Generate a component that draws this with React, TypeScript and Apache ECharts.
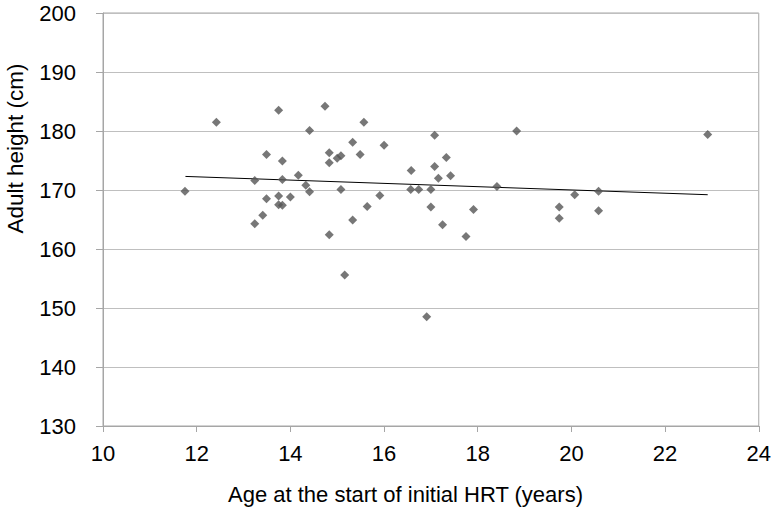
import React, { useEffect, useRef } from "react";
import * as echarts from "echarts";

const ageAtStart: number[] = [
  11.75, 12.42, 13.75, 14.74, 15.57, 14.41, 15.33, 13.49, 13.83, 14.83,
  15.0, 15.08, 15.49, 14.83, 14.17, 13.24, 13.83, 14.33, 14.41, 15.08,
  13.49, 13.75, 14.0, 13.75, 13.83, 15.64, 13.41, 13.24, 15.33, 14.83,
  15.16, 16.0, 17.08, 18.83, 16.58, 17.08, 17.33, 17.16, 17.42, 16.57,
  16.74, 17.0, 18.41, 15.91, 17.0, 17.91, 17.25, 17.75, 16.91, 22.91,
  19.74, 19.74, 20.07, 20.58, 20.58,
];

const adultHeight: number[] = [
  169.8, 181.5, 183.5, 184.2, 181.5, 180.1, 178.1, 176.0, 174.9, 176.3,
  175.4, 175.8, 176.0, 174.6, 172.5, 171.6, 171.8, 170.8, 169.7, 170.1,
  168.5, 169.0, 168.8, 167.5, 167.4, 167.2, 165.7, 164.3, 164.9, 162.4,
  155.6, 177.6, 179.3, 180.0, 173.3, 174.0, 175.5, 172.0, 172.4, 170.1,
  170.1, 170.1, 170.6, 169.05, 167.1, 166.7, 164.1, 162.1, 148.5, 179.4,
  167.1, 165.2, 169.2, 169.8, 166.5,
];

const trendAges: number[] = [11.76, 22.91];
const trendHeights: number[] = [172.3, 169.2];

const xTicks = { min: 10, max: 24, interval: 2 };
const yTicks = { min: 130, max: 200, interval: 10 };

const xTitle = "Age at the start of initial HRT (years)";
const yTitle = "Adult height (cm)";

export default function App() {
  const ref = useRef<HTMLDivElement>(null);

  useEffect(() => {
    if (!ref.current) return;
    const chart = echarts.init(ref.current, undefined, { renderer: "svg" });
    const font = "Liberation Sans, Arial, sans-serif";
    const points = ageAtStart.map((x, i) => [x, adultHeight[i]]);
    const trend = trendAges.map((x, i) => [x, trendHeights[i]]);
    chart.setOption({
      animation: false,
      backgroundColor: "#ffffff",
      grid: {
        left: 103,
        right: 11,
        top: 13,
        bottom: 85,
        show: true,
        borderColor: "#a6a6a6",
        borderWidth: 1,
      },
      xAxis: {
        type: "value",
        min: xTicks.min,
        max: xTicks.max,
        interval: xTicks.interval,
        axisLine: { show: true, onZero: false, lineStyle: { color: "#a6a6a6", width: 1 } },
        axisTick: { show: true, inside: false, length: 6, lineStyle: { color: "#a6a6a6" } },
        splitLine: { show: false },
        axisLabel: { color: "#000", fontSize: 22, fontFamily: font, margin: 16 },
      },
      yAxis: {
        type: "value",
        min: yTicks.min,
        max: yTicks.max,
        interval: yTicks.interval,
        axisLine: { show: true, lineStyle: { color: "#a6a6a6", width: 1 } },
        axisTick: { show: true, inside: false, length: 7, lineStyle: { color: "#a6a6a6" } },
        splitLine: { show: true, lineStyle: { color: "#bfbfbf", width: 1 } },
        axisLabel: { color: "#000", fontSize: 22, fontFamily: font, margin: 27 },
      },
      graphic: [
        {
          type: "text",
          x: 405.5,
          y: 494,
          style: {
            text: xTitle,
            fill: "#000",
            font: `22px ${font}`,
            textAlign: "center",
            textVerticalAlign: "middle",
          },
        },
        {
          type: "text",
          x: 15,
          y: 148.5,
          rotation: Math.PI / 2,
          style: {
            text: yTitle,
            fill: "#000",
            font: `22.5px ${font}`,
            textAlign: "center",
            textVerticalAlign: "middle",
          },
        },
      ],
      series: [
        {
          type: "scatter",
          data: points,
          symbol: "diamond",
          symbolSize: 9,
          itemStyle: { color: "#555555" },
          z: 3,
        },
        {
          type: "line",
          data: trend,
          showSymbol: false,
          symbol: "none",
          lineStyle: { color: "#000000", width: 1 },
          z: 2,
        },
      ],
    });
    return () => chart.dispose();
  }, []);

  return (
    <div
      ref={ref}
      style={{ position: "fixed", left: 0, top: 0, width: 774, height: 511, background: "#fff" }}
    />
  );
}
